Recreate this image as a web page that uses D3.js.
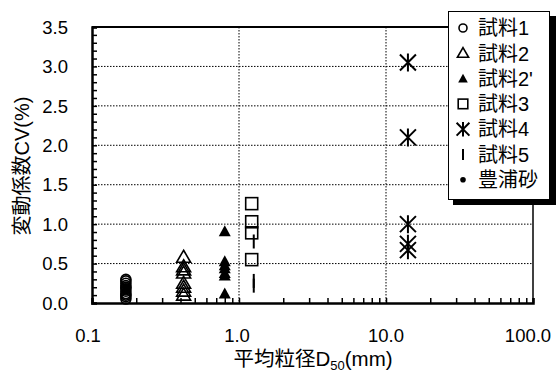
<!DOCTYPE html>
<html><head><meta charset="utf-8">
<script src="https://cdn.jsdelivr.net/npm/d3@7"></script>
<style>body{margin:0;background:#fff}svg{display:block}text{font-family:"Liberation Sans","Noto Sans CJK JP",Arial,sans-serif}</style>
</head><body><svg id="c" width="556" height="373"></svg>
<script>
const seriesNames = ["試料1","試料2","試料2'","試料3","試料4","試料5","豊浦砂"];
const xS1 = 0.17, yS1 = [0.05,0.08,0.10,0.12,0.15,0.18,0.20,0.22,0.25,0.28,0.30];
const xS2 = 0.42, yS2 = [0.58,0.46,0.42,0.38,0.25,0.20,0.15,0.10];
const xS2p = 0.80, yS2p = [0.91,0.53,0.48,0.44,0.38,0.35,0.12];
const xS3 = 1.22, yS3 = [1.26,1.03,0.89,0.55];
const xS4 = 14.1, yS4 = [3.05,2.10,1.00,0.75,0.67];
const xS5 = 1.26, yS5 = [0.78,0.28,0.22];
const xS6 = 0.17, yS6 = [0.15,0.20];
const yTicks = [0,0.5,1.0,1.5,2.0,2.5,3.0,3.5];
const xTicks = [0.1,1,10,100];
const xTickLabels = ["0.1","1.0","10.0","100.0"];

const svg = d3.select("#c");
const L=92,R=533,T=27,B=303;
const x = d3.scaleLog().domain([0.1,100]).range([L,R]);
const y = d3.scaleLinear().domain([0,3.5]).range([B,T]);

// grid
svg.append("g").selectAll("line").data(yTicks.slice(1)).join("line")
 .attr("x1",L).attr("x2",R).attr("y1",d=>y(d)).attr("y2",d=>y(d))
 .attr("stroke","#000").attr("stroke-width",1).attr("stroke-dasharray","1.5,1.5");
svg.append("g").selectAll("line").data([1,10]).join("line")
 .attr("x1",d=>x(d)).attr("x2",d=>x(d)).attr("y1",T).attr("y2",B)
 .attr("stroke","#000").attr("stroke-width",1).attr("stroke-dasharray","1.5,1.5");

// frame
svg.append("line").attr("x1",L).attr("x2",R+1).attr("y1",T).attr("y2",T).attr("stroke","#000").attr("stroke-width",1.8);
svg.append("line").attr("x1",R).attr("x2",R).attr("y1",T).attr("y2",B).attr("stroke","#000").attr("stroke-width",1.5);

// y axis
const yAx = d3.axisRight(y).tickValues(d3.range(0,3.51,0.1)).tickSize(5).tickFormat("");
const gy = svg.append("g").attr("transform",`translate(${L},0)`).call(yAx);
gy.select(".domain").attr("stroke-width",2.5);
gy.selectAll(".tick line").attr("stroke-width",1.5);
svg.append("g").selectAll("text").data(yTicks).join("text")
 .attr("x",L-24).attr("y",d=>y(d)).attr("dy","0.36em").attr("text-anchor","end")
 .attr("font-size",18.5).text(d=>d.toFixed(1));

// x axis
const minor = [];
[0.1,1,10].forEach(b=>{for(let k=1;k<=9;k++) minor.push(b*k);}); minor.push(100);
const xAx = d3.axisTop(x).tickValues(minor).tickSize(5).tickFormat("");
const gx = svg.append("g").attr("transform",`translate(0,${B})`).call(xAx);
gx.select(".domain").attr("stroke-width",2.5);
gx.selectAll(".tick line").attr("stroke-width",1.5);
svg.append("g").selectAll("text").data(xTicks).join("text")
 .attr("x",(d,i)=>x(d)-(i===0?4:i===1?2:i===3?5:0)).attr("y",B+39).attr("text-anchor","middle")
 .attr("font-size",18.5).text((d,i)=>xTickLabels[i]);

// axis titles
const xt = svg.append("text").attr("x",313).attr("y",366).attr("text-anchor","middle").attr("font-size",20.5);
xt.append("tspan").text("平均粒径D");
xt.append("tspan").attr("font-size",13).attr("dy",4).text("50");
xt.append("tspan").attr("dy",-4).text("(mm)");
svg.append("text").attr("transform","translate(29,166) rotate(-90)").attr("text-anchor","middle")
 .attr("font-size",20).text("変動係数CV(%)");

// markers
function marker(g,type,cx,cy,s=1){
  if(type===0) g.append("circle").attr("cx",cx).attr("cy",cy).attr("r",5*s).attr("fill","none").attr("stroke","#000").attr("stroke-width",1.6);
  if(type===1) g.append("path").attr("d",`M${cx},${cy-7*s}L${cx+7*s},${cy+5*s}L${cx-7*s},${cy+5*s}Z`).attr("fill","none").attr("stroke","#000").attr("stroke-width",1.6);
  if(type===2) g.append("path").attr("d",`M${cx},${cy-6*s}L${cx+6*s},${cy+5*s}L${cx-6*s},${cy+5*s}Z`).attr("fill","#000");
  if(type===3) g.append("rect").attr("x",cx-6*s).attr("y",cy-6*s).attr("width",12*s).attr("height",12*s).attr("fill","none").attr("stroke","#000").attr("stroke-width",1.6);
  if(type===4) g.append("path").attr("d",`M${cx-8*s},${cy-8*s}L${cx+8*s},${cy+8*s}M${cx-8*s},${cy+8*s}L${cx+8*s},${cy-8*s}M${cx},${cy-9*s}L${cx},${cy+9*s}`).attr("stroke","#000").attr("stroke-width",2).attr("fill","none");
  if(type===5) g.append("line").attr("x1",cx).attr("x2",cx).attr("y1",cy-7*s).attr("y2",cy+7*s).attr("stroke","#000").attr("stroke-width",2);
  if(type===6) g.append("circle").attr("cx",cx).attr("cy",cy).attr("r",3.5*s).attr("fill","#000");
}
const series = [[xS1,yS1],[xS2,yS2],[xS2p,yS2p],[xS3,yS3],[xS4,yS4],[xS5,yS5],[xS6,yS6]];
const pg = svg.append("g");
series.forEach(([xv,ys],i)=>ys.forEach(v=>marker(pg,i,x(xv),y(v))));

// legend
const lg = svg.append("g");
lg.append("rect").attr("x",453).attr("y",16).attr("width",103).attr("height",189).attr("fill","#000");
lg.append("rect").attr("x",448.5).attr("y",11.5).attr("width",101).attr("height",188).attr("fill","#fff").attr("stroke","#000").attr("stroke-width",1);
seriesNames.forEach((n,i)=>{
  const cy = 28+i*25.3;
  marker(lg,i,463,cy,0.8);
  lg.append("text").attr("x",478).attr("y",cy).attr("dy","0.36em").attr("font-size",20).text(n);
});
</script></body></html>
